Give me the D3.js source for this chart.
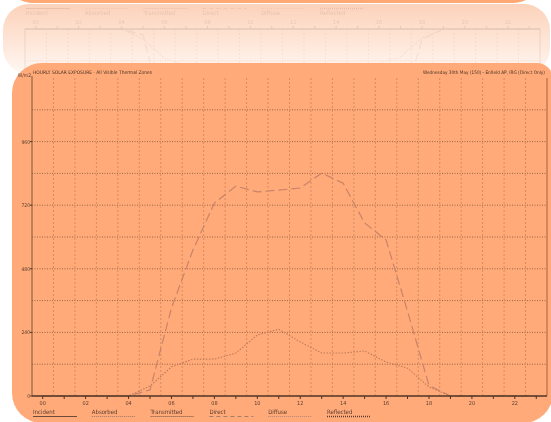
<!DOCTYPE html>
<html>
<head>
<meta charset="utf-8">
<script src="https://cdn.jsdelivr.net/npm/d3@7"></script>
<style>
html, body { margin: 0; padding: 0; background: #fff; }
svg { display: block; filter: blur(0.35px); }
</style>
</head>
<body>
<div id="chart"></div>
<script>
// hourly values (W/m2)
var hours   = d3.range(0, 24);
var direct  = [0, 0, 0, 0, 0, 23, 332, 551, 728, 792, 770, 777, 785, 841, 803, 653, 589, 320, 40, 0, 0, 0, 0, 0];
var diffuse = [0, 0, 0, 0, 0, 38, 110, 139, 139, 162, 230, 252, 204, 162, 162, 170, 128, 105, 34, 0, 0, 0, 0, 0];
var yTicks  = [0, 240, 480, 720, 960];
var xTicks  = [0, 2, 4, 6, 8, 10, 12, 14, 16, 18, 20, 22];
var legendNames = ["Incident", "Absorbed", "Transmitted", "Direct", "Diffuse", "Reflected"];

var W = 551, H = 422;
var font = "'Liberation Sans Narrow', 'DejaVu Sans Condensed', 'Liberation Sans', sans-serif";

var svg = d3.select("#chart").append("svg")
    .attr("width", W)
    .attr("height", H);

var defs = svg.append("defs");
var grad = defs.append("linearGradient")
    .attr("id", "fade")
    .attr("x1", 0).attr("y1", 0).attr("x2", 0).attr("y2", 1);
grad.append("stop").attr("offset", "0%").attr("stop-color", "#fcd2ba");
grad.append("stop").attr("offset", "60%").attr("stop-color", "#fee8db");
grad.append("stop").attr("offset", "100%").attr("stop-color", "#fff8f4");

defs.append("clipPath").attr("id", "refclip")
  .append("rect")
    .attr("x", 3).attr("y", 4).attr("width", 547).attr("height", 70).attr("rx", 26);

// line styles for the legend keys
var legendStyle = {
  Incident:    {dash: null,  color: "#6e4a3a", w: 1.1},
  Absorbed:    {dash: "1,1", color: "#9a7866", w: 1},
  Transmitted: {dash: "1,1", color: "#6e5040", w: 1},
  Direct:      {dash: "4,3", color: "#a27e6c", w: 1},
  Diffuse:     {dash: "1,1", color: "#b08876", w: 1},
  Reflected:   {dash: "1,1", color: "#5a3c30", w: 1.3}
};

// rounded panel with its own radius per corner (tl, tr, br, bl)
function panel(x0, y0, x1, y1, r) {
  var p = d3.path();
  p.moveTo(x0 + r[0], y0);
  p.lineTo(x1 - r[1], y0);
  p.arcTo(x1, y0, x1, y0 + r[1], r[1]);
  p.lineTo(x1, y1 - r[2]);
  p.arcTo(x1, y1, x1 - r[2], y1, r[2]);
  p.lineTo(x0 + r[3], y1);
  p.arcTo(x0, y1, x0, y1 - r[3], r[3]);
  p.lineTo(x0, y0 + r[0]);
  p.arcTo(x0, y0, x0 + r[0], y0, r[0]);
  p.closePath();
  return p.toString();
}

// draws the whole chart; dir = 1 normal, -1 mirrored reflection
function drawChart(g, x, y, dir, withTitles) {
  var y0 = y(0);
  var x0 = x.range()[0], x1 = x.range()[1];

  // horizontal grid
  g.selectAll(".hgrid")
    .data(d3.range(120, 1200, 120))
    .enter().append("line")
      .attr("x1", x0).attr("x2", x1)
      .attr("y1", function(d){ return y(d); })
      .attr("y2", function(d){ return y(d); })
      .style("stroke", "#9a6244")
      .style("stroke-width", 1)
      .style("stroke-dasharray", "1,1.5");

  // vertical grid between the hours
  g.selectAll(".vgrid")
    .data(d3.range(0.5, 23, 1))
    .enter().append("line")
      .attr("x1", function(d){ return x(d); })
      .attr("x2", function(d){ return x(d); })
      .attr("y1", y0).attr("y2", y(1200))
      .style("stroke", "#d38c63")
      .style("stroke-width", 1)
      .style("stroke-dasharray", "2,2");

  // right frame
  g.append("line")
    .attr("x1", x1).attr("x2", x1)
    .attr("y1", y0).attr("y2", y(1200))
    .style("stroke", "#c27a54")
    .style("stroke-width", 1.5);

  // series
  var line = d3.line()
    .x(function(d, i){ return x(hours[i]); })
    .y(function(d){ return y(d); });

  g.append("path")
    .datum(direct)
    .attr("d", line)
    .style("fill", "none")
    .style("stroke", "#c8846a")
    .style("stroke-width", 1.2)
    .style("stroke-dasharray", "9,4");

  g.append("path")
    .datum(diffuse)
    .attr("d", line)
    .style("fill", "none")
    .style("stroke", "#c17c5c")
    .style("stroke-width", 1.1)
    .style("stroke-dasharray", "1.5,1.5");

  // axes
  g.append("line")
    .attr("x1", x0).attr("x2", x0)
    .attr("y1", y0).attr("y2", y(1200) + dir * -2)
    .style("stroke", "#7a5644")
    .style("stroke-width", 1);
  g.append("line")
    .attr("x1", x0).attr("x2", x1)
    .attr("y1", y0).attr("y2", y0)
    .style("stroke", "#4e3426")
    .style("stroke-width", 1.3);

  // x ticks every hour, labels every 2
  g.selectAll(".xtick")
    .data(hours)
    .enter().append("line")
      .attr("x1", function(d){ return x(d); })
      .attr("x2", function(d){ return x(d); })
      .attr("y1", y0).attr("y2", y0 + dir * 3)
      .style("stroke", "#4e3426")
      .style("stroke-width", 1);

  g.selectAll(".xlab")
    .data(xTicks)
    .enter().append("text")
      .attr("x", function(d){ return x(d); })
      .attr("y", y0 + dir * 7 + 2)
      .attr("text-anchor", "middle")
      .text(d3.format("02d"))
      .style("font-family", font)
      .style("font-size", "5.5px")
      .style("fill", "#5a3e30");

  // legend
  var lx = d3.scaleBand()
    .domain(legendNames)
    .range([x0 + 1, x0 + 1 + 58.8 * legendNames.length]);

  var items = g.selectAll(".legend")
    .data(legendNames)
    .enter().append("g")
      .attr("transform", function(d){ return "translate(" + lx(d) + "," + y0 + ")"; });

  items.append("text")
    .attr("y", dir * 16 + 2)
    .text(function(d){ return d; })
    .style("font-family", font)
    .style("font-size", "6px")
    .style("fill", "#5a3e30");

  items.append("line")
    .attr("x1", 0).attr("x2", 44)
    .attr("y1", dir * 20.5).attr("y2", dir * 20.5)
    .style("stroke", function(d){ return legendStyle[d].color; })
    .style("stroke-width", function(d){ return legendStyle[d].w; })
    .style("stroke-dasharray", function(d){ return legendStyle[d].dash; });

  if (!withTitles) return;

  // y labels
  g.selectAll(".ytick")
    .data(yTicks)
    .enter().append("line")
      .attr("x1", x0 - 2).attr("x2", x0)
      .attr("y1", function(d){ return y(d); })
      .attr("y2", function(d){ return y(d); })
      .style("stroke", "#4e3426");

  g.selectAll(".ylab")
    .data(yTicks)
    .enter().append("text")
      .attr("x", x0 - 2)
      .attr("y", function(d){ return y(d) + 2; })
      .attr("text-anchor", "end")
      .text(function(d){ return d; })
      .style("font-family", font)
      .style("font-size", "5px")
      .style("fill", "#5a3e30");

  g.append("text")
    .attr("x", x0 - 1)
    .attr("y", y(1200) - 1)
    .attr("text-anchor", "end")
    .text("W/m2")
    .style("font-family", font)
    .style("font-size", "5px")
    .style("fill", "#5a3e30");

  g.append("text")
    .attr("x", x0 + 1)
    .attr("y", y(1200) - 4)
    .text("HOURLY SOLAR EXPOSURE - All Visible Thermal Zones")
    .style("font-family", font)
    .style("font-size", "4.9px")
    .style("fill", "#4a3226");

  g.append("text")
    .attr("x", x1 - 2)
    .attr("y", y(1200) - 4)
    .attr("text-anchor", "end")
    .text("Wednesday 30th May (150) - Enfield AP, IRG (Direct Only)")
    .style("font-family", font)
    .style("font-size", "4.7px")
    .style("fill", "#4a3226");
}

// top strip of the slide above
svg.append("rect")
  .attr("x", 10).attr("y", -30)
  .attr("width", 526).attr("height", 33)
  .attr("rx", 24)
  .style("fill", "#ffa874");

// reflection panel
svg.append("rect")
  .attr("x", 3).attr("y", 4)
  .attr("width", 547).attr("height", 70)
  .attr("rx", 26)
  .style("fill", "url(#fade)");

var refl = svg.append("g")
  .attr("clip-path", "url(#refclip)")
  .append("g")
  .style("opacity", 0.13);

var xr = d3.scaleLinear().domain([-0.5, 23.5]).range([25, 540]);
var yr = d3.scaleLinear().domain([0, 1200]).range([29, 347]);
drawChart(refl, xr, yr, -1, false);

// main panel
svg.append("path")
  .attr("d", panel(12, 63, 553, 423, [30, 16, 30, 30]))
  .style("fill", "#ffaa78");

var x = d3.scaleLinear().domain([-0.5, 23.5]).range([32, 547]);
var y = d3.scaleLinear().domain([0, 1200]).range([396, 78]);
drawChart(svg.append("g"), x, y, 1, true);
</script>
</body>
</html>
